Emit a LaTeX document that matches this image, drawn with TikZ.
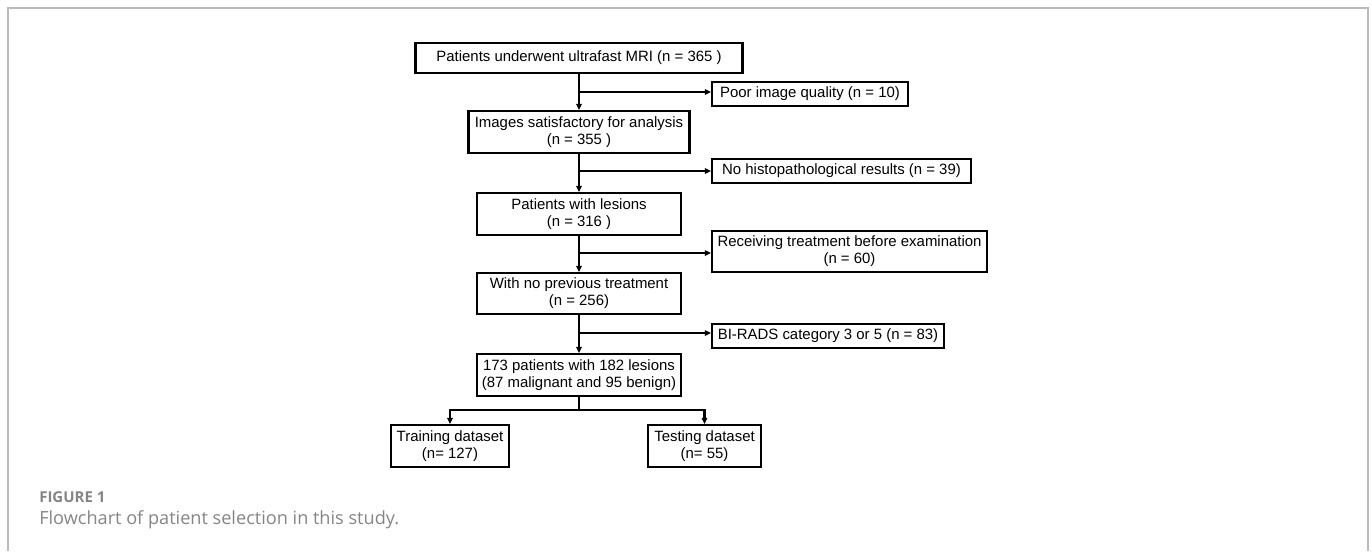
\documentclass[tikz,border=0pt]{standalone}
\usepackage{fontspec}
\setmainfont{Liberation Sans}
\newfontfamily\capfont{Open Sans}
\usetikzlibrary{arrows.meta}
\definecolor{capgray}{HTML}{858585}
\definecolor{framegray}{HTML}{BBBBBB}
\begin{document}
\begin{tikzpicture}[x=0.75pt,y=-0.75pt,
  box/.style={draw=black,line width=1.6pt,inner sep=0pt,align=center,
    font=\fontsize{11.2}{12.8}\selectfont},
  link/.style={line width=1.6pt},
  arr/.style={link,-{Triangle[length=4.5pt,width=4pt]}},
  captext/.style={anchor=base west,inner sep=0pt,text=capgray}]
\useasboundingbox (0,0) rectangle (1372,551);
\draw[framegray,line width=1.2pt] (8,551) -- (8,8) -- (1368,8) -- (1368,551);

\node[box,minimum width=245.25pt,minimum height=22.5pt] (top) at (579,58) {Patients underwent ultrafast MRI (n = 365 )};
\node[box,minimum width=147pt,minimum height=18pt] (poor) at (810,94) {Poor image quality (n = 10)};
\node[box,minimum width=165.75pt,minimum height=31.5pt] (images) at (579,132) {Images satisfactory for analysis\\(n = 355 )};
\node[box,minimum width=194.25pt,minimum height=18pt] (nohist) at (841.5,171) {No histopathological results (n = 39)};
\node[box,minimum width=153pt,minimum height=31.5pt] (lesions) at (579,214) {Patients with lesions\\(n = 316 )};
\node[box,minimum width=206.25pt,minimum height=30.75pt] (recv) at (849.5,251.5) {Receiving treatment before examination\\(n = 60)};
\node[box,minimum width=153pt,minimum height=30.75pt] (noprev) at (579,293.5) {With no previous treatment\\(n = 256)};
\node[box,minimum width=174pt,minimum height=18pt] (birads) at (828,336) {BI-RADS category 3 or 5 (n = 83)};
\node[box,minimum width=153pt,minimum height=31.5pt] (pts) at (579,375) {173 patients with 182 lesions\\(87 malignant and 95 benign)};
\node[box,minimum width=88.5pt,minimum height=31.5pt] (train) at (450,446) {Training dataset\\(n= 127)};
\node[box,minimum width=84.75pt,minimum height=31.5pt] (test) at (704.5,446) {Testing dataset\\(n= 55)};

\coordinate (b1) at (579,92);
\coordinate (b2) at (579,171);
\coordinate (b3) at (579,253);
\coordinate (b4) at (579,333);
\coordinate (split) at (579,410);

\draw[arr] (top.south) -- (images.north);
\draw[arr] (images.south) -- (lesions.north);
\draw[arr] (lesions.south) -- (noprev.north);
\draw[arr] (noprev.south) -- (pts.north);
\draw[arr] (b1) -- (b1 -| poor.west);
\draw[arr] (b2) -- (b2 -| nohist.west);
\draw[arr] (b3) -- (b3 -| recv.west);
\draw[arr] (b4) -- (b4 -| birads.west);
\draw[link] (pts.south) -- (split);
\draw[arr] (split) -| (train.north);
\draw[arr] (split) -| (test.north);

\node[captext,font=\capfont\bfseries\fontsize{11.25}{13}\selectfont] (fig) at (39,502) {FIGURE 1};
\node[captext,font=\capfont\fontsize{13.6}{15}\selectfont] (cap) at (39,524) {Flowchart of patient selection in this study.};
\end{tikzpicture}
\end{document}
